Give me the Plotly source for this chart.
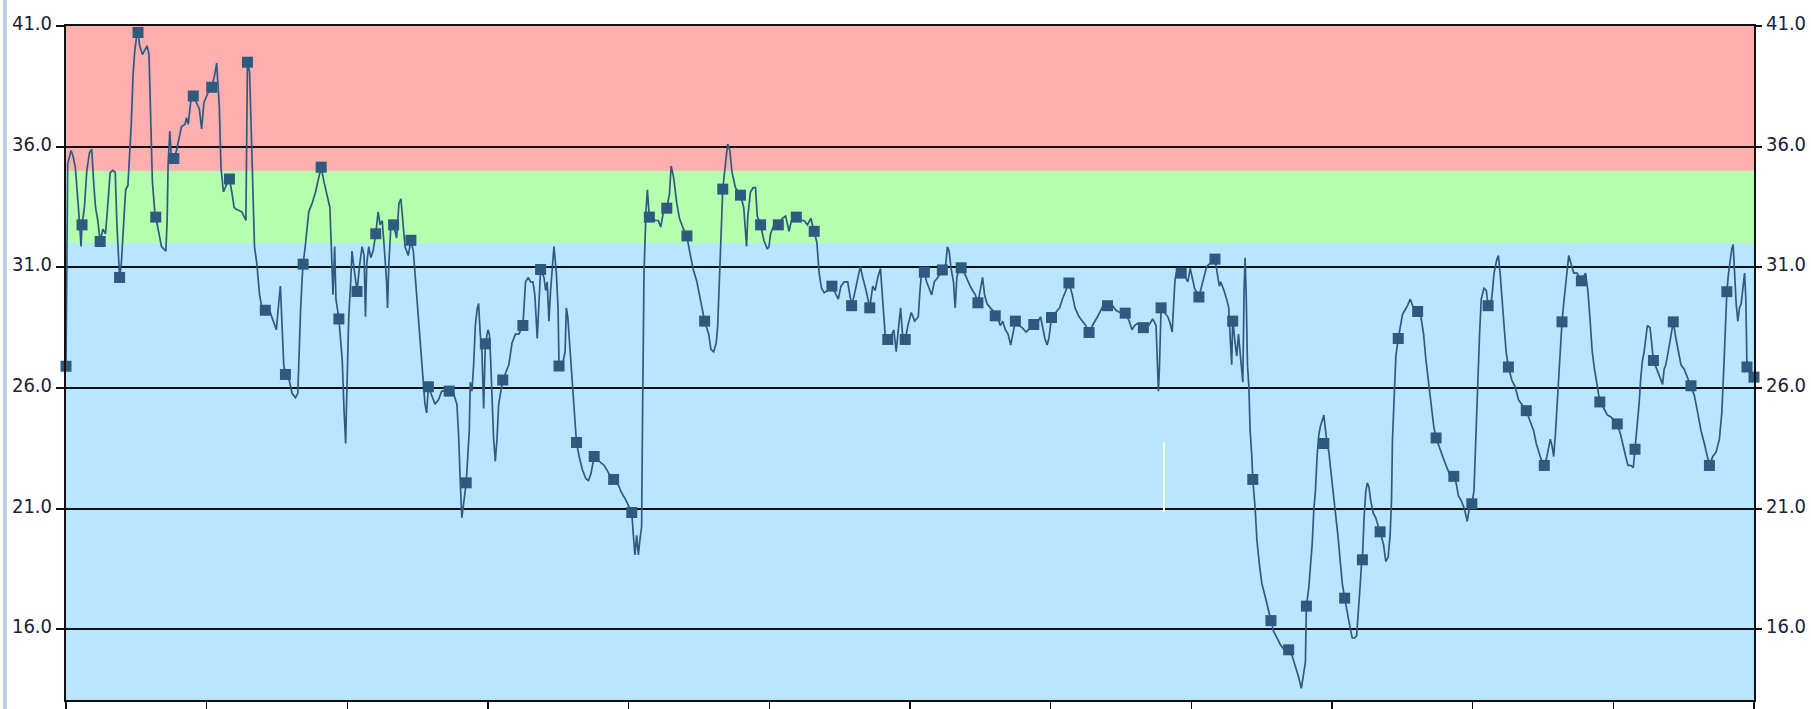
import plotly.graph_objects as go

# ---------------- data ----------------
# x is measured in tick intervals (12 intervals across the axis)
line_x = [
    0.000, 0.003, 0.006, 0.012, 0.036, 0.052, 0.067, 0.083, 0.095, 0.107, 0.114, 0.131, 0.148, 0.167, 0.183,
    0.198, 0.210, 0.226, 0.243, 0.262, 0.281, 0.298, 0.314, 0.333, 0.350, 0.362, 0.376, 0.381, 0.393, 0.410,
    0.424, 0.440, 0.452, 0.464, 0.476, 0.488, 0.505, 0.512, 0.524, 0.543, 0.560, 0.576, 0.590, 0.600, 0.614,
    0.631, 0.638, 0.655, 0.679, 0.710, 0.719, 0.726, 0.738, 0.750, 0.767, 0.786, 0.805, 0.821, 0.845, 0.857,
    0.869, 0.886, 0.905, 0.929, 0.948, 0.964, 0.981, 1.000, 1.019, 1.036, 1.055, 1.071, 1.090, 1.102, 1.119,
    1.138, 1.162, 1.179, 1.195, 1.214, 1.250, 1.279, 1.286, 1.290, 1.305, 1.314, 1.329, 1.340, 1.357, 1.376,
    1.393, 1.417, 1.452, 1.476, 1.495, 1.512, 1.524, 1.536, 1.548, 1.560, 1.583, 1.607, 1.631, 1.648, 1.655,
    1.667, 1.679, 1.686, 1.702, 1.726, 1.750, 1.774, 1.798, 1.814, 1.833, 1.857, 1.876, 1.886, 1.898, 1.910,
    1.919, 1.940, 1.964, 1.976, 1.988, 1.995,
    2.010, 2.024, 2.033, 2.048, 2.069, 2.088, 2.105, 2.119, 2.129, 2.138, 2.152, 2.167, 2.183, 2.202, 2.219,
    2.233, 2.248, 2.262, 2.279, 2.286, 2.295, 2.310, 2.329, 2.350, 2.367, 2.381, 2.398, 2.410, 2.433, 2.452,
    2.469, 2.481, 2.493, 2.510, 2.529, 2.541, 2.552, 2.564, 2.576, 2.600, 2.624, 2.648, 2.671, 2.724, 2.755,
    2.779, 2.791, 2.802, 2.814, 2.845, 2.857, 2.867, 2.874, 2.886, 2.898, 2.910, 2.924, 2.933, 2.945, 2.957,
    2.969, 2.981, 3.000, 3.010, 3.019, 3.029, 3.040, 3.052, 3.064, 3.076, 3.105, 3.124, 3.148, 3.171, 3.195,
    3.219, 3.248, 3.267, 3.286, 3.302, 3.319, 3.333, 3.350, 3.362, 3.374, 3.398, 3.410, 3.421, 3.433, 3.445,
    3.457, 3.469, 3.486, 3.498, 3.505, 3.529, 3.548, 3.557, 3.567, 3.576, 3.588, 3.600, 3.612, 3.629, 3.648,
    3.671, 3.695, 3.714, 3.731, 3.755, 3.790, 3.826, 3.862, 3.893, 3.921, 3.945, 3.981, 4.022,
    4.038, 4.045, 4.057, 4.069, 4.080, 4.092, 4.099, 4.109, 4.123, 4.133, 4.147, 4.164, 4.188, 4.211, 4.228,
    4.247, 4.271, 4.290, 4.302, 4.319, 4.342, 4.361, 4.390, 4.414, 4.433, 4.457, 4.485, 4.509, 4.528, 4.540,
    4.569, 4.585, 4.604, 4.623, 4.633, 4.642, 4.652, 4.664, 4.669, 4.688, 4.704, 4.719, 4.735, 4.759, 4.795,
    4.818, 4.838, 4.847, 4.866, 4.885, 4.902, 4.914, 4.938, 4.961, 4.985, 4.997, 5.009, 5.033, 5.064, 5.092,
    5.116, 5.140, 5.157, 5.192, 5.223, 5.247, 5.271, 5.295, 5.319, 5.338, 5.354, 5.371, 5.390, 5.414, 5.445,
    5.473, 5.490, 5.509, 5.533, 5.557, 5.569, 5.585, 5.604, 5.628, 5.647, 5.664, 5.688, 5.714, 5.735, 5.752,
    5.771, 5.790, 5.799, 5.814, 5.823, 5.842, 5.871, 5.885, 5.902, 5.914, 5.933, 5.949, 5.966, 5.985, 6.009,
    6.033, 6.059, 6.071, 6.083, 6.102, 6.118, 6.142, 6.154, 6.173, 6.197, 6.230, 6.254, 6.266, 6.278, 6.292,
    6.309, 6.321, 6.333, 6.345, 6.364, 6.387, 6.411, 6.428, 6.445, 6.464, 6.483, 6.499, 6.516, 6.530, 6.547,
    6.571, 6.587, 6.606, 6.625, 6.642, 6.659, 6.678, 6.697, 6.716, 6.733, 6.749, 6.773, 6.797, 6.825, 6.880,
    6.911, 6.928, 6.940, 6.959, 6.975, 6.987, 7.006, 7.035, 7.064, 7.083, 7.106, 7.130, 7.154, 7.173, 7.202,
    7.225, 7.249, 7.273, 7.297, 7.333, 7.356, 7.380, 7.404, 7.440, 7.464, 7.492, 7.530, 7.559, 7.578, 7.597,
    7.618, 7.659, 7.697, 7.725, 7.749, 7.761, 7.766, 7.773, 7.783, 7.785, 7.809, 7.833, 7.849, 7.864, 7.873,
    7.883, 7.892, 7.928, 7.959, 7.975, 7.992, 8.006, 8.023, 8.054,
    8.080, 8.097, 8.109, 8.168, 8.185, 8.199, 8.209, 8.223, 8.232, 8.251, 8.266, 8.275, 8.287, 8.294, 8.299,
    8.311, 8.323, 8.335, 8.347, 8.359, 8.366, 8.375, 8.382, 8.390, 8.399, 8.409, 8.418, 8.430, 8.437, 8.454,
    8.466, 8.485, 8.501, 8.525, 8.549, 8.566, 8.585, 8.609, 8.632, 8.656, 8.692, 8.716, 8.740, 8.763, 8.782,
    8.799, 8.811, 8.818, 8.835, 8.847, 8.859, 8.871, 8.882, 8.894, 8.906, 8.918, 8.930, 8.942, 8.961, 8.978,
    8.994, 9.009, 9.025, 9.042, 9.056, 9.073, 9.090, 9.109, 9.128, 9.144, 9.161, 9.175, 9.185, 9.199, 9.211,
    9.216, 9.228, 9.240, 9.251, 9.263, 9.275, 9.294, 9.311, 9.342, 9.366, 9.382, 9.399, 9.413, 9.423, 9.430,
    9.442, 9.454, 9.471, 9.490, 9.501, 9.518, 9.537, 9.556, 9.573, 9.585, 9.609, 9.632, 9.651, 9.668, 9.687,
    9.704, 9.723, 9.740, 9.763, 9.787, 9.811, 9.835, 9.866, 9.882, 9.899, 9.918, 9.942, 9.961, 9.978, 9.994,
    10.009, 10.018, 10.028, 10.037, 10.049, 10.061, 10.080, 10.097, 10.110,
    10.135, 10.152, 10.171, 10.183, 10.195, 10.207, 10.223, 10.238, 10.254, 10.278, 10.302, 10.326, 10.350,
    10.381, 10.409, 10.433, 10.452, 10.469, 10.485, 10.509, 10.528, 10.540, 10.552, 10.564, 10.576, 10.588,
    10.600, 10.612, 10.623, 10.635, 10.647, 10.659, 10.671, 10.683, 10.700, 10.719, 10.742, 10.773, 10.802,
    10.819, 10.833, 10.850, 10.866, 10.881, 10.904, 10.933, 10.957, 10.985, 11.028, 11.052, 11.071, 11.088,
    11.104, 11.123, 11.142, 11.154, 11.171, 11.183, 11.195, 11.207, 11.219, 11.231, 11.242, 11.261, 11.271,
    11.285, 11.309, 11.333, 11.350, 11.361, 11.373, 11.390, 11.409, 11.426, 11.445, 11.462, 11.481, 11.504,
    11.528, 11.552, 11.576, 11.600, 11.623, 11.647, 11.666, 11.683, 11.707, 11.730, 11.754, 11.771, 11.785,
    11.797, 11.807, 11.819, 11.833, 11.842, 11.852, 11.862, 11.873, 11.885, 11.897, 11.909, 11.921, 11.933,
    11.942, 11.950, 11.976, 12.000,
]
line_y = [
    26.91, 29.95, 33.48, 35.29, 35.84, 35.57, 35.11, 34.03, 32.94, 31.86, 32.76, 33.48, 35.02, 35.75, 35.89,
    34.39, 33.48, 32.94, 32.07, 32.58, 32.39, 33.66, 34.93, 35.02, 34.93, 32.76, 30.76, 30.58, 31.13, 32.76,
    34.21, 34.39, 35.47, 36.92, 38.92, 39.91, 40.73, 40.73, 40.18, 39.82, 40.00, 40.18, 39.82, 37.47, 34.57,
    33.30, 33.08, 32.58, 31.86, 31.67, 32.94, 35.29, 36.65, 35.47, 35.51, 35.84, 36.38, 36.83, 36.92, 37.20,
    36.92, 37.83, 38.10, 37.83, 37.56, 36.74, 37.83, 38.10, 38.37, 38.46, 38.92, 39.46, 37.65, 35.11, 34.12,
    34.39, 34.66, 34.12, 33.48, 33.39, 33.30, 32.94, 36.02, 39.50, 39.10, 37.47, 34.39, 31.86, 31.13, 29.86,
    29.32, 29.22, 29.13, 28.77, 28.41, 29.50, 30.22, 28.59, 26.96, 26.56, 26.42, 25.78, 25.60, 25.78, 27.32,
    29.13, 30.58, 31.13, 31.94, 33.30, 33.66, 34.12, 34.75, 35.15, 34.57, 34.03, 33.48, 31.86, 29.86, 31.86,
    29.68, 28.86, 27.14, 25.15, 23.70, 25.50,
    28.95, 30.40, 31.67, 30.95, 30.00, 31.13, 31.86, 31.49, 28.95, 31.13, 31.86, 31.40, 31.67, 32.39, 33.30,
    32.76, 32.94, 31.86, 30.40, 29.32, 31.13, 32.76, 32.76, 32.21, 33.66, 33.84, 32.58, 31.86, 31.49, 32.12,
    31.67, 30.76, 29.50, 28.59, 27.14, 26.24, 25.33, 24.97, 26.05, 25.69, 25.33, 25.51, 25.87, 25.87, 25.78,
    25.33, 24.06, 22.25, 20.62, 22.07, 23.34, 24.24, 26.24, 25.87, 26.96, 28.59, 29.32, 29.50, 28.23, 27.50,
    25.15, 27.83, 28.41, 28.23, 27.14, 25.33, 23.88, 22.97, 23.88, 25.33, 26.33, 26.60, 26.96, 27.87, 28.23,
    28.23, 28.59, 30.40, 30.58, 30.40, 30.40, 29.86, 28.05, 29.50, 30.91, 30.58, 30.04, 30.40, 28.77, 30.04,
    31.13, 31.86, 30.76, 29.32, 26.91, 26.96, 27.50, 29.32, 28.95, 28.23, 26.96, 25.87, 24.97, 23.74, 23.16,
    22.61, 22.25, 22.16, 22.43, 23.16, 22.97, 22.79, 22.43, 22.21, 22.07, 21.71, 21.34, 20.84,
    19.53, 19.08, 19.89, 19.08, 19.71, 20.26, 24.97, 30.76, 33.30, 34.21, 33.08, 33.12, 32.94, 32.94, 32.67,
    33.30, 33.45, 34.03, 35.20, 34.75, 33.66, 33.03, 32.58, 32.30, 31.67, 30.95, 30.40, 29.68, 29.13, 28.77,
    28.23, 27.59, 27.50, 27.87, 28.59, 30.04, 31.49, 33.30, 34.24, 35.29, 36.11, 35.84, 34.93, 34.30, 33.99,
    33.48, 31.86, 33.12, 34.12, 34.30, 34.30, 33.12, 32.76, 32.12, 31.76, 31.85, 32.39, 32.76, 32.76, 33.03,
    33.12, 32.49, 32.94, 33.08, 32.94, 32.94, 32.76, 33.03, 32.49, 32.03, 30.76, 30.13, 29.95, 30.04, 30.22,
    29.86, 29.68, 30.22, 30.40, 30.40, 30.04, 29.41, 29.86, 30.58, 31.04, 30.58, 30.04, 29.32, 30.22, 30.04,
    30.58, 30.95, 30.22, 28.95, 28.23, 28.01, 28.23, 28.41, 27.50, 28.23, 29.32, 28.05, 28.01, 28.59, 29.13,
    28.77, 28.95, 30.04, 30.86, 30.80, 30.40, 30.04, 29.86, 30.40, 30.58, 30.89, 31.13, 31.85, 31.67, 30.95,
    30.40, 29.32, 30.58, 30.86, 30.98, 30.76, 30.40, 30.22, 30.04, 29.86, 29.53, 30.04, 30.58, 29.86, 29.50,
    29.32, 29.22, 28.99, 28.86, 28.59, 28.77, 28.41, 28.23, 27.78, 28.23, 28.77, 28.59, 28.50, 28.32, 28.63,
    28.77, 28.95, 28.59, 28.05, 27.78, 28.05, 28.92, 29.13, 29.32, 29.68, 30.04, 30.35, 29.86, 29.32, 28.95,
    28.77, 28.59, 28.30, 28.59, 28.95, 29.22, 29.50, 29.41, 29.41, 29.22, 29.13, 29.10, 28.77, 28.41, 28.59,
    28.68, 28.50, 28.59, 28.86, 28.59, 26.96, 25.87, 26.78, 28.77, 29.32, 29.13, 28.95, 28.68, 28.32, 29.32,
    30.40, 30.76, 30.76, 30.58, 30.40, 30.95, 30.58, 30.13, 29.77,
    30.40, 30.76, 31.04, 31.34, 30.76, 30.22, 30.40, 30.22, 30.04, 29.68, 29.32, 28.23, 26.96, 28.77, 28.59,
    27.87, 27.32, 28.23, 27.50, 26.78, 26.24, 30.04, 31.40, 29.86, 26.96, 26.05, 24.24, 23.16, 22.21, 20.98,
    19.71, 18.63, 17.90, 17.36, 16.81, 16.36, 15.91, 15.64, 15.37, 15.18, 15.15, 14.91, 14.46, 14.01, 13.55,
    14.10, 14.64, 16.96, 17.72, 18.63, 19.53, 20.98, 21.71, 23.16, 24.06, 24.42, 24.61, 24.88, 23.88, 23.34,
    22.43, 21.71, 20.80, 19.89, 18.99, 17.90, 17.29, 16.63, 16.09, 15.64, 15.64, 15.73, 16.45, 17.72, 18.81,
    18.88, 20.62, 21.71, 22.07, 21.89, 21.34, 20.80, 20.62, 20.04, 19.53, 18.81, 18.99, 19.89, 21.34, 23.88,
    25.87, 27.32, 28.05, 28.77, 29.04, 29.22, 29.41, 29.68, 29.41, 29.32, 29.17, 28.95, 28.23, 27.14, 26.24,
    25.33, 24.42, 23.93, 23.52, 23.16, 22.79, 22.43, 22.34, 22.07, 21.53, 21.34, 20.98, 20.47, 21.07, 21.20,
    21.71, 23.16, 24.97, 26.78, 28.23, 29.68, 30.13, 30.04, 29.41,
    29.68, 30.76, 31.31, 31.49, 30.76, 29.68, 28.59, 27.50, 26.87, 26.33, 26.05, 25.51, 25.33,
    25.06, 24.61, 24.24, 23.70, 23.34, 23.07, 22.79, 23.16, 23.52, 23.88, 23.61, 23.16, 24.06,
    25.33, 26.42, 27.50, 28.74, 29.50, 30.22, 30.76, 31.49, 31.13, 30.76, 30.76, 30.44, 30.76,
    30.04, 28.95, 27.50, 26.78, 26.24, 25.42, 25.15, 24.88, 24.79, 24.51, 24.06, 23.52, 23.16,
    22.79, 22.79, 22.70, 23.46, 24.24, 25.33, 26.42, 27.14, 27.50, 28.23, 28.59, 28.50, 27.87,
    27.14, 26.78, 26.42, 26.15, 26.78, 26.96, 27.50, 28.23, 28.74, 28.05, 27.50, 26.96, 26.78,
    26.42, 26.09, 25.69, 24.97, 24.24, 23.70, 23.16, 22.79, 23.16, 23.34, 23.88, 24.97, 26.78,
    28.59, 29.99, 30.76, 31.49, 31.76, 31.94, 30.76, 29.50, 28.77, 29.32, 29.50, 30.04, 30.76,
    29.68, 26.87, 26.60, 26.45,
]

marker_x = [
    0.000, 0.114, 0.243, 0.381, 0.512, 0.638, 0.767, 0.905, 1.036, 1.162, 1.290, 1.417, 1.560, 1.686, 1.814, 1.940,
    2.069, 2.202, 2.329, 2.452, 2.576, 2.724, 2.845, 2.981, 3.105, 3.248, 3.374, 3.505, 3.629, 3.755, 3.893, 4.022,
    4.147, 4.271, 4.414, 4.540, 4.669, 4.795, 4.938, 5.064, 5.192, 5.319, 5.445, 5.585, 5.714, 5.842, 5.966,
    6.102, 6.230, 6.364, 6.483, 6.606, 6.749, 6.880, 7.006, 7.130, 7.273, 7.404, 7.530, 7.659, 7.785, 7.928, 8.054,
    8.168, 8.294, 8.437, 8.566, 8.692, 8.818, 8.942, 9.090, 9.216, 9.342, 9.471, 9.609, 9.740, 9.866, 9.994, 10.110,
    10.254, 10.381, 10.509, 10.635, 10.773, 10.904, 11.028, 11.154, 11.285, 11.426, 11.552, 11.683, 11.807, 11.950, 12.000,
]
marker_y = [
    26.90, 32.76, 32.07, 30.58, 40.73, 33.08, 35.51, 38.10, 38.46, 34.66, 39.50, 29.22, 26.56, 31.13, 35.15, 28.86,
    30.00, 32.39, 32.76, 32.12, 26.05, 25.87, 22.07, 27.83, 26.33, 28.59, 30.91, 26.91, 23.74, 23.16, 22.21, 20.84,
    33.08, 33.45, 32.30, 28.77, 34.24, 33.99, 32.76, 32.76, 33.08, 32.49, 30.22, 29.41, 29.32, 28.01, 28.01,
    30.80, 30.89, 30.98, 29.53, 28.99, 28.77, 28.63, 28.92, 30.35, 28.30, 29.41, 29.10, 28.50, 29.32, 30.76, 29.77,
    31.34, 28.77, 22.21, 16.36, 15.15, 16.96, 23.70, 17.29, 18.88, 20.04, 28.05, 29.17, 23.93, 22.34, 21.20, 29.41,
    26.87, 25.06, 22.79, 28.74, 30.44, 25.42, 24.51, 23.46, 27.14, 28.74, 26.09, 22.79, 29.99, 26.87, 26.45,
]

y_ticks = [16, 21, 26, 31, 36, 41]
x_ticks = list(range(0, 13))

# colour bands (lower, upper, colour)
band_low = [13.07, 32.0, 35.0]
band_high = [32.0, 35.0, 41.0]
band_colors = ["#B9E6FE", "#B5FEB0", "#FEAFAF"]

Y_MIN, Y_MAX = 13.07, 41.0
LINE_COLOR = "#2F5A80"
FONT = "Liberation Sans Narrow, DejaVu Sans Condensed, Roboto Condensed, Liberation Sans, Arial, sans-serif"

fig = go.Figure()
fig.add_trace(go.Scatter(
    x=line_x, y=line_y, mode="lines",
    line=dict(color=LINE_COLOR, width=1.7),
    hoverinfo="skip", showlegend=False, yaxis="y",
))
fig.add_trace(go.Scatter(
    x=marker_x, y=marker_y, mode="markers",
    marker=dict(symbol="square", size=11, color=LINE_COLOR, line=dict(width=0)),
    showlegend=False, yaxis="y2", cliponaxis=False,
))

shapes = []
for lo, hi, col in zip(band_low, band_high, band_colors):
    shapes.append(dict(type="rect", xref="paper", yref="y", x0=0, x1=1, y0=lo, y1=hi,
                       fillcolor=col, line=dict(width=0), layer="below"))
# window border strip at far left
shapes.append(dict(type="rect", xref="paper", yref="paper", x0=-0.0374, x1=-0.0350,
                   y0=-0.02, y1=1.05, fillcolor="#BFCFE3", line=dict(width=0), layer="below"))
# faint cursor artefact
shapes.append(dict(type="line", xref="x", yref="y", x0=7.805, x1=7.805, y0=20.86, y1=23.75,
                   line=dict(color="#FFFFE6", width=2), layer="above"))

axis_font = dict(family=FONT, size=20, color="#20203A")

fig.update_layout(
    width=1811, height=709,
    margin=dict(l=66, r=57, t=26, b=9, pad=0),
    paper_bgcolor="white", plot_bgcolor="#B9E6FE",
    showlegend=False,
    shapes=shapes,
    xaxis=dict(range=[0, 12], tickvals=x_ticks, showticklabels=False,
               ticks="outside", ticklen=9, tickwidth=1.5, tickcolor="#111",
               showgrid=False, zeroline=False, showline=True, linecolor="#111",
               linewidth=2, mirror=True, fixedrange=True, automargin=False),
    yaxis=dict(range=[Y_MIN, Y_MAX], tickvals=y_ticks, tickformat=".1f",
               ticks="outside", ticklen=8, tickwidth=2, tickcolor="#111",
               showgrid=True, gridcolor="#111", gridwidth=2, zeroline=False,
               showline=True, linecolor="#111", linewidth=2, ticklabelshift=-3,
               tickfont=axis_font, fixedrange=True, automargin=False),
    yaxis2=dict(range=[Y_MIN, Y_MAX], tickvals=y_ticks, tickformat=".1f",
                overlaying="y", side="right",
                ticks="outside", ticklen=6, tickwidth=2, tickcolor="#111",
                showgrid=False, zeroline=False, ticklabelshift=-3,
                showline=True, linecolor="#111", linewidth=2,
                tickfont=axis_font, fixedrange=True, automargin=False),
)

fig.write_html(
    "out.html",
    config={"displayModeBar": False, "staticPlot": True},
    post_script="document.body.style.margin='0';document.body.style.overflow='hidden';",
)
